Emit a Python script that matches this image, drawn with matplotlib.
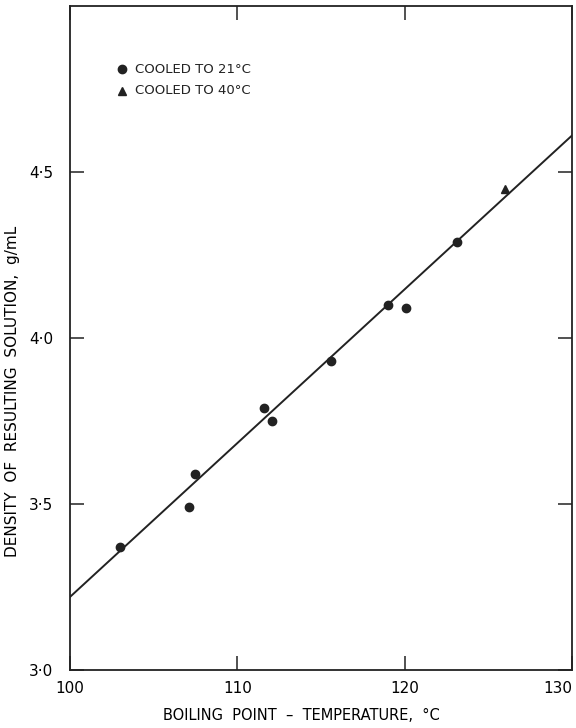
import matplotlib
matplotlib.use("Agg")
import matplotlib.pyplot as plt

# readings
temp_21 = [103.0, 107.1, 107.5, 111.6, 112.1, 115.6, 119.0, 120.1, 123.1]
dens_21 = [3.37, 3.49, 3.59, 3.79, 3.75, 3.93, 4.10, 4.09, 4.29]
temp_40 = [126.0]
dens_40 = [4.45]

fit_x = [100, 130]
fit_y = [3.22, 4.61]

xticks = [100, 110, 120, 130]
yticks = [3.0, 3.5, 4.0, 4.5]
ytick_labels = ["3·0", "3·5", "4·0", "4·5"]

plt.rcParams['font.family'] = ['DejaVu Sans']

fig = plt.figure(figsize=(5.76, 7.28), dpi=100)
ax = fig.add_axes([0.1215, 0.0797, 0.8715, 0.912])

ax.plot(fit_x, fit_y, color='#222222', lw=1.4)
ax.plot(temp_21, dens_21, 'o', color='#222222', ms=6)
ax.plot(temp_40, dens_40, '^', color='#222222', ms=6)

ax.set_xlim(100, 130)
ax.set_ylim(3.0, 5.0)
ax.set_xticks(xticks)
xl = ax.set_xticklabels([str(t) for t in xticks], fontsize=11)
xl[-1].set_horizontalalignment('right')
ax.set_yticks(yticks)
ax.set_yticklabels(ytick_labels, fontsize=11)
ax.tick_params(direction='in', length=10, width=1.1, color='#222222',
               top=True, right=True, pad=8)
ax.tick_params(axis='y', pad=12)
for s in ax.spines.values():
    s.set_linewidth(1.3)
    s.set_color('#222222')

ax.set_xlabel("BOILING  POINT  –  TEMPERATURE,  °C", fontsize=10.5)
ax.xaxis.set_label_coords(0.46, -0.058)
ax.set_ylabel("DENSITY  OF  RESULTING  SOLUTION,  g/mL", fontsize=11)
ax.yaxis.set_label_coords(-0.1, 0.42)

# legend drawn by hand
ax.plot([103.1], [4.81], 'o', color='#222222', ms=6)
ax.plot([103.1], [4.745], '^', color='#222222', ms=6)
ax.text(103.9, 4.81, "COOLED TO 21°C", fontsize=9.5, va='center', color='#222222')
ax.text(103.9, 4.745, "COOLED TO 40°C", fontsize=9.5, va='center', color='#222222')

fig.savefig("out.png", dpi=100)
